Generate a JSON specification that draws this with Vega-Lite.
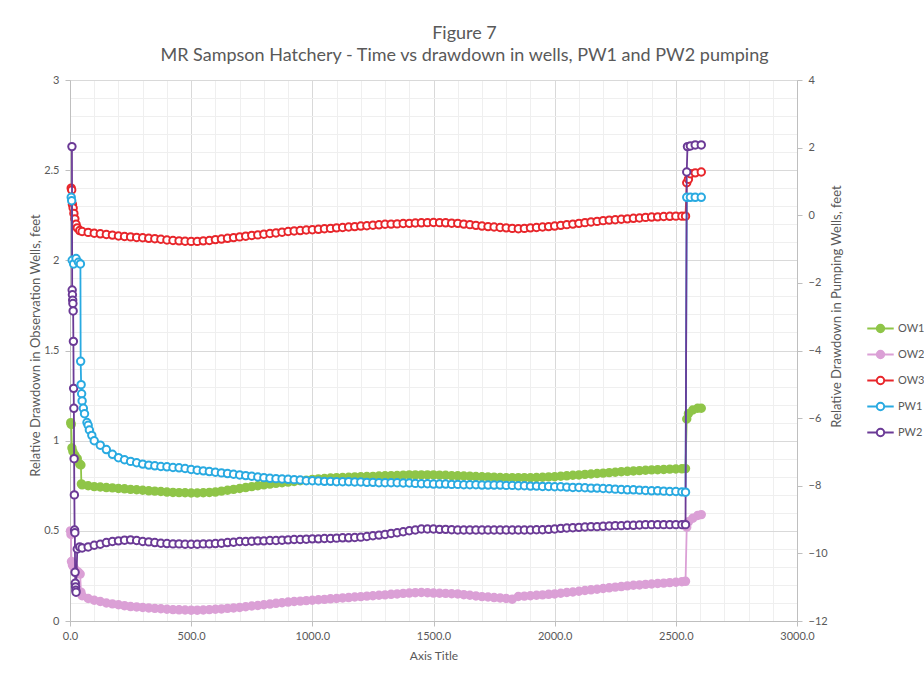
{
"$schema": "https://vega.github.io/schema/vega-lite/v6.json",
"width": 727, "height": 541,
"autosize": {"type": "none"},
"padding": {"left": 70, "top": 80, "right": 127, "bottom": 56},
"background": "white",
"config": {"font": "Lato", "view": {"stroke": null}},
"title": {"text": "Figure 7", "subtitle": "MR Sampson Hatchery - Time vs drawdown in wells, PW1 and PW2 pumping", "font": "Lato", "subtitleFont": "Lato", "fontSize": 18, "subtitleFontSize": 18, "fontWeight": "normal", "color": "#595959", "subtitleColor": "#595959", "anchor": "middle", "dx": 31, "offset": 9, "subtitlePadding": 4},
"data": {"values": [
{"t":2,"OW2":0.50},{"t":3,"OW1":1.10},{"t":4,"OW2":0.48},
{"t":5,"OW1":1.09,"OW3":2.40,"PW1":0.53},{"t":6,"OW2":0.33},{"t":7,"OW3":2.39,"PW1":0.43},
{"t":8,"OW1":0.96,"PW2":2.03},{"t":9,"PW1":-1.33,"PW2":-2.21},{"t":10,"OW2":0.31,"OW3":2.31,"PW2":-2.35},
{"t":11,"PW2":-2.51},{"t":12,"OW1":0.94,"PW2":-2.61},{"t":13,"OW3":2.29,"PW2":-2.83},{"t":14,"PW2":-3.73},
{"t":15,"OW2":0.30,"PW1":-1.44,"PW2":-5.12},{"t":16,"OW3":2.26,"PW2":-5.71},{"t":17,"PW2":-7.20},{"t":18,"PW2":-8.27},
{"t":19,"PW2":-9.31},{"t":20,"OW1":0.92,"OW3":2.23,"PW2":-9.39},{"t":21,"PW2":-10.56},{"t":22,"PW2":-10.88},
{"t":23,"PW2":-10.99},{"t":24,"PW2":-11.09},{"t":25,"OW2":0.28,"OW3":2.20,"PW1":-1.28,"PW2":-11.15},
{"t":30,"OW1":0.90,"OW3":2.18,"PW2":-9.87},{"t":35,"OW2":0.27,"PW1":-1.39},{"t":40,"OW1":0.87,"OW3":2.165,"PW2":-9.81},
{"t":42,"OW2":0.26},{"t":43,"PW1":-1.44},{"t":44,"PW1":-4.32},{"t":45,"OW1":0.865,"OW2":0.16},{"t":46,"PW1":-5.01},
{"t":47,"OW1":0.76},{"t":48,"PW1":-5.28},
{"t":50,"OW1":0.755,"OW2":0.14,"OW3":2.16,"PW1":-5.49,"PW2":-9.84},
{"t":55,"PW1":-5.71},{"t":60,"PW1":-5.87},{"t":70,"PW1":-6.13},
{"t":75,"OW1":0.75,"OW2":0.125,"OW3":2.155,"PW1":-6.21,"PW2":-9.81},
{"t":80,"PW1":-6.35},{"t":90,"PW1":-6.51},
{"t":100,"OW1":0.745,"OW2":0.115,"OW3":2.15,"PW1":-6.67,"PW2":-9.76},
{"t":125,"OW1":0.743,"OW2":0.108,"OW3":2.147,"PW1":-6.80,"PW2":-9.73},
{"t":150,"OW1":0.74,"OW2":0.10,"OW3":2.143,"PW1":-6.93,"PW2":-9.68},
{"t":175,"OW1":0.738,"OW2":0.095,"OW3":2.14,"PW1":-7.07,"PW2":-9.65},
{"t":200,"OW1":0.735,"OW2":0.09,"OW3":2.135,"PW1":-7.17,"PW2":-9.63},
{"t":225,"OW1":0.733,"OW2":0.085,"OW3":2.132,"PW1":-7.23,"PW2":-9.61},
{"t":250,"OW1":0.73,"OW2":0.08,"OW3":2.13,"PW1":-7.28,"PW2":-9.60},
{"t":275,"OW1":0.728,"OW2":0.078,"OW3":2.127,"PW1":-7.32,"PW2":-9.62},
{"t":300,"OW1":0.725,"OW2":0.075,"OW3":2.125,"PW1":-7.36,"PW2":-9.65},
{"t":325,"OW1":0.722,"OW2":0.072,"OW3":2.122,"PW1":-7.39,"PW2":-9.66},
{"t":350,"OW1":0.72,"OW2":0.07,"OW3":2.12,"PW1":-7.41,"PW2":-9.68},
{"t":375,"OW1":0.718,"OW2":0.068,"OW3":2.117,"PW1":-7.43,"PW2":-9.70},
{"t":400,"OW1":0.715,"OW2":0.065,"OW3":2.113,"PW1":-7.44,"PW2":-9.71},
{"t":425,"OW1":0.713,"OW2":0.063,"OW3":2.11,"PW1":-7.46,"PW2":-9.72},
{"t":450,"OW1":0.712,"OW2":0.062,"OW3":2.108,"PW1":-7.47,"PW2":-9.72},
{"t":475,"OW1":0.711,"OW2":0.061,"OW3":2.106,"PW1":-7.49,"PW2":-9.73},
{"t":500,"OW1":0.71,"OW2":0.06,"OW3":2.105,"PW1":-7.52,"PW2":-9.73},
{"t":525,"OW1":0.71,"OW2":0.06,"OW3":2.105,"PW1":-7.54,"PW2":-9.73},
{"t":550,"OW1":0.711,"OW2":0.061,"OW3":2.108,"PW1":-7.56,"PW2":-9.72},
{"t":575,"OW1":0.713,"OW2":0.063,"OW3":2.11,"PW1":-7.58,"PW2":-9.72},
{"t":600,"OW1":0.715,"OW2":0.065,"OW3":2.115,"PW1":-7.60,"PW2":-9.71},
{"t":625,"OW1":0.72,"OW2":0.067,"OW3":2.118,"PW1":-7.62,"PW2":-9.70},
{"t":650,"OW1":0.725,"OW2":0.07,"OW3":2.122,"PW1":-7.64,"PW2":-9.68},
{"t":675,"OW1":0.73,"OW2":0.072,"OW3":2.126,"PW1":-7.66,"PW2":-9.67},
{"t":700,"OW1":0.735,"OW2":0.075,"OW3":2.13,"PW1":-7.68,"PW2":-9.65},
{"t":725,"OW1":0.74,"OW2":0.079,"OW3":2.134,"PW1":-7.70,"PW2":-9.65},
{"t":750,"OW1":0.745,"OW2":0.083,"OW3":2.138,"PW1":-7.72,"PW2":-9.64},
{"t":775,"OW1":0.75,"OW2":0.086,"OW3":2.141,"PW1":-7.74,"PW2":-9.63},
{"t":800,"OW1":0.755,"OW2":0.09,"OW3":2.145,"PW1":-7.76,"PW2":-9.63},
{"t":825,"OW1":0.759,"OW2":0.094,"OW3":2.149,"PW1":-7.78,"PW2":-9.62},
{"t":850,"OW1":0.763,"OW2":0.098,"OW3":2.152,"PW1":-7.79,"PW2":-9.62},
{"t":875,"OW1":0.767,"OW2":0.101,"OW3":2.156,"PW1":-7.80,"PW2":-9.61},
{"t":900,"OW1":0.77,"OW2":0.105,"OW3":2.16,"PW1":-7.81,"PW2":-9.60},
{"t":925,"OW1":0.774,"OW2":0.108,"OW3":2.163,"PW1":-7.82,"PW2":-9.59},
{"t":950,"OW1":0.778,"OW2":0.11,"OW3":2.165,"PW1":-7.83,"PW2":-9.59},
{"t":975,"OW1":0.781,"OW2":0.113,"OW3":2.168,"PW1":-7.85,"PW2":-9.58},
{"t":1000,"OW1":0.785,"OW2":0.115,"OW3":2.17,"PW1":-7.85,"PW2":-9.57},
{"t":1025,"OW1":0.788,"OW2":0.118,"OW3":2.172,"PW1":-7.86,"PW2":-9.57},
{"t":1050,"OW1":0.79,"OW2":0.12,"OW3":2.175,"PW1":-7.87,"PW2":-9.56},
{"t":1075,"OW1":0.793,"OW2":0.123,"OW3":2.177,"PW1":-7.87,"PW2":-9.56},
{"t":1100,"OW1":0.795,"OW2":0.125,"OW3":2.18,"PW1":-7.88,"PW2":-9.55},
{"t":1125,"OW1":0.796,"OW2":0.128,"OW3":2.182,"PW1":-7.88,"PW2":-9.54},
{"t":1150,"OW1":0.797,"OW2":0.13,"OW3":2.185,"PW1":-7.88,"PW2":-9.54},
{"t":1175,"OW1":0.799,"OW2":0.133,"OW3":2.187,"PW1":-7.89,"PW2":-9.53},
{"t":1200,"OW1":0.80,"OW2":0.135,"OW3":2.19,"PW1":-7.89,"PW2":-9.52},
{"t":1225,"OW1":0.801,"OW2":0.138,"OW3":2.192,"PW1":-7.90,"PW2":-9.50},
{"t":1250,"OW1":0.802,"OW2":0.14,"OW3":2.195,"PW1":-7.90,"PW2":-9.48},
{"t":1275,"OW1":0.804,"OW2":0.143,"OW3":2.197,"PW1":-7.91,"PW2":-9.46},
{"t":1300,"OW1":0.805,"OW2":0.145,"OW3":2.20,"PW1":-7.91,"PW2":-9.44},
{"t":1325,"OW1":0.806,"OW2":0.148,"OW3":2.201,"PW1":-7.91,"PW2":-9.41},
{"t":1350,"OW1":0.807,"OW2":0.15,"OW3":2.202,"PW1":-7.91,"PW2":-9.39},
{"t":1375,"OW1":0.809,"OW2":0.153,"OW3":2.204,"PW1":-7.92,"PW2":-9.36},
{"t":1400,"OW1":0.81,"OW2":0.155,"OW3":2.205,"PW1":-7.92,"PW2":-9.33},
{"t":1425,"OW1":0.81,"OW2":0.157,"OW3":2.207,"PW1":-7.93,"PW2":-9.31},
{"t":1450,"OW1":0.81,"OW2":0.158,"OW3":2.208,"PW1":-7.94,"PW2":-9.28},
{"t":1475,"OW1":0.81,"OW2":0.157,"OW3":2.209,"PW1":-7.94,"PW2":-9.28},
{"t":1500,"OW1":0.81,"OW2":0.155,"OW3":2.21,"PW1":-7.95,"PW2":-9.28},
{"t":1525,"OW1":0.809,"OW2":0.154,"OW3":2.209,"PW1":-7.95,"PW2":-9.29},
{"t":1550,"OW1":0.808,"OW2":0.153,"OW3":2.208,"PW1":-7.95,"PW2":-9.29},
{"t":1575,"OW1":0.806,"OW2":0.151,"OW3":2.206,"PW1":-7.96,"PW2":-9.30},
{"t":1600,"OW1":0.805,"OW2":0.15,"OW3":2.205,"PW1":-7.96,"PW2":-9.31},
{"t":1625,"OW1":0.804,"OW2":0.146,"OW3":2.201,"PW1":-7.97,"PW2":-9.31},
{"t":1650,"OW1":0.803,"OW2":0.143,"OW3":2.198,"PW1":-7.97,"PW2":-9.31},
{"t":1675,"OW1":0.801,"OW2":0.139,"OW3":2.194,"PW1":-7.97,"PW2":-9.31},
{"t":1700,"OW1":0.80,"OW2":0.135,"OW3":2.19,"PW1":-7.98,"PW2":-9.31},
{"t":1725,"OW1":0.799,"OW2":0.133,"OW3":2.187,"PW1":-7.98,"PW2":-9.31},
{"t":1750,"OW1":0.798,"OW2":0.13,"OW3":2.185,"PW1":-7.98,"PW2":-9.31},
{"t":1775,"OW1":0.796,"OW2":0.128,"OW3":2.182,"PW1":-7.98,"PW2":-9.31},
{"t":1800,"OW1":0.795,"OW2":0.125,"OW3":2.18,"PW1":-7.99,"PW2":-9.31},
{"t":1825,"OW1":0.795,"OW2":0.121,"OW3":2.177,"PW1":-7.99,"PW2":-9.31},
{"t":1850,"OW1":0.795,"OW2":0.136,"OW3":2.175,"PW1":-8.00,"PW2":-9.31},
{"t":1875,"OW1":0.795,"OW2":0.138,"OW3":2.177,"PW1":-8.00,"PW2":-9.31},
{"t":1900,"OW1":0.795,"OW2":0.14,"OW3":2.18,"PW1":-8.01,"PW2":-9.31},
{"t":1925,"OW1":0.796,"OW2":0.143,"OW3":2.182,"PW1":-8.01,"PW2":-9.30},
{"t":1950,"OW1":0.797,"OW2":0.145,"OW3":2.185,"PW1":-8.02,"PW2":-9.30},
{"t":1975,"OW1":0.799,"OW2":0.148,"OW3":2.187,"PW1":-8.02,"PW2":-9.29},
{"t":2000,"OW1":0.80,"OW2":0.15,"OW3":2.19,"PW1":-8.03,"PW2":-9.28},
{"t":2025,"OW1":0.803,"OW2":0.154,"OW3":2.194,"PW1":-8.03,"PW2":-9.26},
{"t":2050,"OW1":0.805,"OW2":0.158,"OW3":2.198,"PW1":-8.04,"PW2":-9.25},
{"t":2075,"OW1":0.808,"OW2":0.161,"OW3":2.201,"PW1":-8.05,"PW2":-9.24},
{"t":2100,"OW1":0.81,"OW2":0.165,"OW3":2.205,"PW1":-8.05,"PW2":-9.23},
{"t":2125,"OW1":0.813,"OW2":0.169,"OW3":2.209,"PW1":-8.06,"PW2":-9.22},
{"t":2150,"OW1":0.815,"OW2":0.173,"OW3":2.213,"PW1":-8.07,"PW2":-9.21},
{"t":2175,"OW1":0.818,"OW2":0.176,"OW3":2.216,"PW1":-8.07,"PW2":-9.21},
{"t":2200,"OW1":0.82,"OW2":0.18,"OW3":2.22,"PW1":-8.08,"PW2":-9.20},
{"t":2225,"OW1":0.823,"OW2":0.184,"OW3":2.223,"PW1":-8.09,"PW2":-9.19},
{"t":2250,"OW1":0.825,"OW2":0.188,"OW3":2.225,"PW1":-8.10,"PW2":-9.18},
{"t":2275,"OW1":0.828,"OW2":0.191,"OW3":2.228,"PW1":-8.11,"PW2":-9.18},
{"t":2300,"OW1":0.83,"OW2":0.195,"OW3":2.23,"PW1":-8.12,"PW2":-9.17},
{"t":2325,"OW1":0.832,"OW2":0.198,"OW3":2.233,"PW1":-8.12,"PW2":-9.17},
{"t":2350,"OW1":0.834,"OW2":0.20,"OW3":2.235,"PW1":-8.13,"PW2":-9.16},
{"t":2375,"OW1":0.836,"OW2":0.203,"OW3":2.238,"PW1":-8.14,"PW2":-9.15},
{"t":2400,"OW1":0.838,"OW2":0.205,"OW3":2.24,"PW1":-8.15,"PW2":-9.15},
{"t":2425,"OW1":0.839,"OW2":0.208,"OW3":2.241,"PW1":-8.15,"PW2":-9.15},
{"t":2450,"OW1":0.84,"OW2":0.21,"OW3":2.243,"PW1":-8.16,"PW2":-9.15},
{"t":2475,"OW1":0.842,"OW2":0.213,"OW3":2.244,"PW1":-8.17,"PW2":-9.15},
{"t":2500,"OW1":0.843,"OW2":0.215,"OW3":2.245,"PW1":-8.17,"PW2":-9.15},
{"t":2525,"OW1":0.844,"OW2":0.218,"OW3":2.245,"PW1":-8.18,"PW2":-9.15},
{"t":2540,"OW1":0.845,"OW2":0.22,"OW3":2.245,"PW1":-8.19,"PW2":-9.15},
{"t":2545,"OW1":1.12,"OW2":0.52,"OW3":2.43,"PW1":0.53,"PW2":1.28},
{"t":2548,"PW2":2.03},
{"t":2552,"OW1":1.15,"OW2":0.55,"OW3":2.45},
{"t":2560,"OW3":2.48,"PW1":0.53,"PW2":2.05},
{"t":2570,"OW1":1.17,"OW2":0.57},
{"t":2580,"OW3":2.485,"PW1":0.53,"PW2":2.08},
{"t":2590,"OW1":1.18,"OW2":0.585},
{"t":2605,"OW1":1.18,"OW2":0.59,"OW3":2.49,"PW1":0.53,"PW2":2.08}
]},
"encoding": {
  "x": {"field": "t", "type": "quantitative", "scale": {"domain": [0, 3000], "nice": false, "zero": false},
    "axis": {"title": "Axis Title", "values": [0,100,200,300,400,500,600,700,800,900,1000,1100,1200,1300,1400,1500,1600,1700,1800,1900,2000,2100,2200,2300,2400,2500,2600,2700,2800,2900,3000],
      "labelExpr": "datum.value % 500 === 0 ? format(datum.value, '.1f') : ''",
      "labelFlush": false, "labelOverlap": false, "labelColor": "#595959", "labelFontSize": 11, "labelPadding": 4,
      "gridColor": {"condition": {"test": "datum.value % 500 === 0", "value": "#d9d9d9"}, "value": "#efefef"},
      "tickOpacity": {"condition": {"test": "datum.value % 500 === 0", "value": 1}, "value": 0},
      "tickColor": "#bfbfbf", "tickSize": 5, "domainColor": "#bfbfbf",
      "titleColor": "#595959", "titleFontSize": 12, "titleFontWeight": "normal", "titlePadding": 9}}
},
"layer": [
  {
    "transform": [{"fold": ["OW1", "OW2", "OW3"], "as": ["w", "v"]}, {"filter": "isValid(datum.v)"}],
    "encoding": {
      "y": {"field": "v", "type": "quantitative", "scale": {"domain": [0, 3], "nice": false, "zero": false},
        "axis": {"orient": "left", "title": "Relative Drawdown in Observation Wells, feet",
          "values": [0,0.1,0.2,0.3,0.4,0.5,0.6,0.7,0.8,0.9,1,1.1,1.2,1.3,1.4,1.5,1.6,1.7,1.8,1.9,2,2.1,2.2,2.3,2.4,2.5,2.6,2.7,2.8,2.9,3],
          "labelExpr": "abs(datum.value*2 - round(datum.value*2)) < 0.001 ? format(datum.value, '~g') : ''",
          "labelOverlap": false, "labelColor": "#595959", "labelFontSize": 11, "labelPadding": 6,
          "gridColor": {"condition": {"test": "abs(datum.value*2 - round(datum.value*2)) < 0.001", "value": "#d9d9d9"}, "value": "#efefef"},
          "tickOpacity": {"condition": {"test": "abs(datum.value*2 - round(datum.value*2)) < 0.001", "value": 1}, "value": 0},
          "tickColor": "#bfbfbf", "tickSize": 5, "domainColor": "#bfbfbf",
          "titleColor": "#595959", "titleFontSize": 13, "titleFontWeight": "normal", "titlePadding": 1, "titleY": 265}},
      "stroke": {"field": "w", "type": "nominal",
        "scale": {"domain": ["OW1", "OW2", "OW3", "PW1", "PW2"], "range": ["#8fc548", "#dba0d6", "#e8262b", "#29aae1", "#6b3a96"]},
        "legend": {"title": null, "orient": "none", "legendX": 796, "legendY": 234,
          "symbolType": "M-1,0H-0.28M0.28,0H1M-0.28,0A0.28,0.28,0,1,1,0.28,0A0.28,0.28,0,1,1,-0.28,0Z",
          "symbolSize": 700, "symbolStrokeWidth": 2, "labelFontSize": 11, "labelColor": "#595959", "rowPadding": 3, "labelOffset": 3}}
    },
    "layer": [
      {"mark": {"type": "line", "strokeWidth": 1.8}},
      {"mark": {"type": "point", "shape": "circle", "size": 55, "strokeWidth": 2, "opacity": 1},
       "encoding": {"fill": {"field": "w", "type": "nominal",
         "scale": {"domain": ["OW1", "OW2", "OW3", "PW1", "PW2"], "range": ["#8fc548", "#dba0d6", "#ffffff", "#ffffff", "#ffffff"]},
         "legend": {"title": null, "orient": "none", "legendX": 796, "legendY": 234,
          "symbolType": "M-1,0H-0.28M0.28,0H1M-0.28,0A0.28,0.28,0,1,1,0.28,0A0.28,0.28,0,1,1,-0.28,0Z",
          "symbolSize": 700, "symbolStrokeWidth": 2, "labelFontSize": 11, "labelColor": "#595959", "rowPadding": 3, "labelOffset": 3}}}}
    ]
  },
  {
    "transform": [{"fold": ["PW1", "PW2"], "as": ["w", "v"]}, {"filter": "isValid(datum.v)"}],
    "encoding": {
      "y": {"field": "v", "type": "quantitative", "scale": {"domain": [-12, 4], "nice": false, "zero": false},
        "axis": {"orient": "right", "title": "Relative Drawdown in Pumping Wells, feet", "values": [-12,-10,-8,-6,-4,-2,0,2,4],
          "grid": false, "labelColor": "#595959", "labelFontSize": 11, "labelPadding": 6,
          "tickColor": "#bfbfbf", "tickSize": 5, "domainColor": "#bfbfbf",
          "titleColor": "#595959", "titleFontSize": 13, "titleFontWeight": "normal", "titlePadding": 16, "titleAngle": 270, "titleY": 226}},
      "stroke": {"field": "w", "type": "nominal",
        "scale": {"domain": ["OW1", "OW2", "OW3", "PW1", "PW2"], "range": ["#8fc548", "#dba0d6", "#e8262b", "#29aae1", "#6b3a96"]},
        "legend": {"title": null, "orient": "none", "legendX": 796, "legendY": 234,
          "symbolType": "M-1,0H-0.28M0.28,0H1M-0.28,0A0.28,0.28,0,1,1,0.28,0A0.28,0.28,0,1,1,-0.28,0Z",
          "symbolSize": 700, "symbolStrokeWidth": 2, "labelFontSize": 11, "labelColor": "#595959", "rowPadding": 3, "labelOffset": 3}}
    },
    "layer": [
      {"mark": {"type": "line", "strokeWidth": 1.8}},
      {"mark": {"type": "point", "shape": "circle", "size": 55, "strokeWidth": 2, "opacity": 1},
       "encoding": {"fill": {"field": "w", "type": "nominal",
         "scale": {"domain": ["OW1", "OW2", "OW3", "PW1", "PW2"], "range": ["#8fc548", "#dba0d6", "#ffffff", "#ffffff", "#ffffff"]},
         "legend": {"title": null, "orient": "none", "legendX": 796, "legendY": 234,
          "symbolType": "M-1,0H-0.28M0.28,0H1M-0.28,0A0.28,0.28,0,1,1,0.28,0A0.28,0.28,0,1,1,-0.28,0Z",
          "symbolSize": 700, "symbolStrokeWidth": 2, "labelFontSize": 11, "labelColor": "#595959", "rowPadding": 3, "labelOffset": 3}}}}
    ]
  }
],
"resolve": {"scale": {"y": "independent"}}
}
